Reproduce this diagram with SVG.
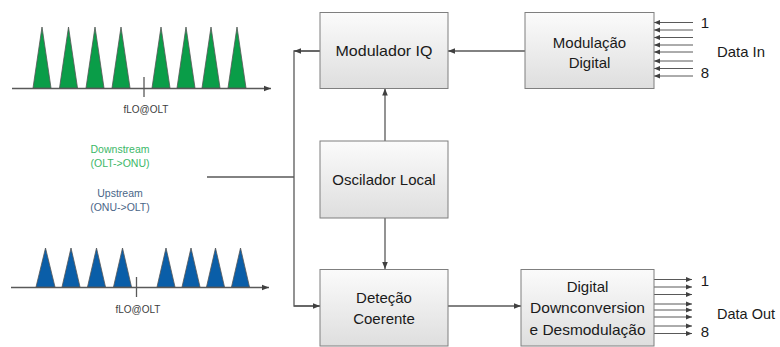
<svg xmlns="http://www.w3.org/2000/svg" width="780" height="347" viewBox="0 0 780 347">
<defs>
<linearGradient id="bg" x1="0" y1="0" x2="0" y2="1">
<stop offset="0" stop-color="#fbfbfb"/>
<stop offset="1" stop-color="#dedede"/>
</linearGradient>
<marker id="ah" viewBox="0 0 10 10" refX="10" refY="5" markerWidth="7" markerHeight="7" markerUnits="userSpaceOnUse" orient="auto">
<path d="M0,1 L10,5 L0,9 Z" fill="#404040"/>
</marker>
<marker id="ahs" viewBox="0 0 10 10" refX="10" refY="5" markerWidth="6" markerHeight="6" markerUnits="userSpaceOnUse" orient="auto">
<path d="M0,1 L10,5 L0,9 Z" fill="#404040"/>
</marker>
</defs>
<style>
.box{fill:url(#bg);stroke:#7f7f7f;stroke-width:1}
.t{font-family:"Liberation Sans",Arial,sans-serif;font-size:15px;fill:#1a1a1a;text-anchor:middle}
.ts{font-family:"Liberation Sans",Arial,sans-serif;font-size:15px;fill:#1a1a1a;text-anchor:start}
.s{font-family:"Liberation Sans",Arial,sans-serif;font-size:10px;fill:#404040;text-anchor:middle}
.c{fill:none;stroke:#595959;stroke-width:1.3}
.ax{fill:none;stroke:#595959;stroke-width:1.3}
.g{fill:#0a9d48;stroke:#555;stroke-width:0.8}
.b{fill:#0a5ea8;stroke:#555;stroke-width:0.8}
.lab{font-family:"Liberation Sans",Arial,sans-serif;font-size:10.5px;text-anchor:middle}
.d{fill:none;stroke:#595959;stroke-width:1}
</style>

<g id="spectrum-down">
<line class="ax" x1="12" y1="88.5" x2="271" y2="88.5" marker-end="url(#ah)"/>
<line class="ax" x1="144" y1="77" x2="144" y2="97"/>
<polygon class="g" points="33,88 42,27 51,88"/>
<polygon class="g" points="59.5,88 68.5,27 77.5,88"/>
<polygon class="g" points="86,88 95,27 104,88"/>
<polygon class="g" points="112,88 121,27 130,88"/>
<polygon class="g" points="152,88 161,27 170,88"/>
<polygon class="g" points="177,88 186,27 195,88"/>
<polygon class="g" points="202,88 211,27 220,88"/>
<polygon class="g" points="228,88 237,27 246,88"/>
<text class="s" x="146" y="113">fLO@OLT</text>
</g>

<g id="spectrum-up">
<line class="ax" x1="11" y1="287.5" x2="269" y2="287.5" marker-end="url(#ah)"/>
<line class="ax" x1="136.5" y1="277" x2="136.5" y2="297"/>
<polygon class="b" points="36,287 45.5,248 55,287"/>
<polygon class="b" points="62,287 71,248 80,287"/>
<polygon class="b" points="87.5,287 96.5,248 105.5,287"/>
<polygon class="b" points="113.5,287 122.5,248 131.5,287"/>
<polygon class="b" points="157,287 166,248 175,287"/>
<polygon class="b" points="182,287 191,248 200,287"/>
<polygon class="b" points="206.5,287 215.5,248 224.5,287"/>
<polygon class="b" points="231.5,287 240.5,248 249.5,287"/>
<text class="s" x="138" y="313">fLO@OLT</text>
</g>

<g id="legend">
<text class="lab" x="120" y="153" fill="#3cb868">Downstream</text>
<text class="lab" x="120" y="167" fill="#3cb868">(OLT-&gt;ONU)</text>
<text class="lab" x="120" y="197" fill="#4a6688">Upstream</text>
<text class="lab" x="120" y="211" fill="#4a6688">(ONU-&gt;OLT)</text>
</g>

<g id="connectors">
<line class="c" x1="207" y1="177" x2="294" y2="177"/>
<polyline class="c" points="320,51 294,51 294,306 320,306" />
<line class="c" x1="320" y1="51" x2="294" y2="51" marker-end="url(#ah)"/>
<line class="c" x1="294" y1="306" x2="320" y2="306" marker-end="url(#ah)"/>
<line class="c" x1="525" y1="51" x2="448" y2="51" marker-end="url(#ah)"/>
<line class="c" x1="385" y1="141" x2="385" y2="88.5" marker-end="url(#ah)"/>
<line class="c" x1="385" y1="218" x2="385" y2="269" marker-end="url(#ah)"/>
<line class="c" x1="448" y1="306" x2="521" y2="306" marker-end="url(#ah)"/>
<g id="data-in">
<line class="d" x1="693" y1="22.5" x2="654" y2="22.5" marker-end="url(#ahs)"/>
<line class="d" x1="693" y1="30" x2="654" y2="30" marker-end="url(#ahs)"/>
<line class="d" x1="693" y1="37.5" x2="654" y2="37.5" marker-end="url(#ahs)"/>
<line class="d" x1="693" y1="45" x2="654" y2="45" marker-end="url(#ahs)"/>
<line class="d" x1="693" y1="52" x2="654" y2="52" marker-end="url(#ahs)"/>
<line class="d" x1="693" y1="61" x2="654" y2="61" marker-end="url(#ahs)"/>
<line class="d" x1="693" y1="68.5" x2="654" y2="68.5" marker-end="url(#ahs)"/>
<line class="d" x1="693" y1="76" x2="654" y2="76" marker-end="url(#ahs)"/>
</g>
<g id="data-out">
<line class="d" x1="654" y1="279.5" x2="692" y2="279.5" marker-end="url(#ahs)"/>
<line class="d" x1="654" y1="287" x2="692" y2="287" marker-end="url(#ahs)"/>
<line class="d" x1="654" y1="294.5" x2="692" y2="294.5" marker-end="url(#ahs)"/>
<line class="d" x1="654" y1="304" x2="692" y2="304" marker-end="url(#ahs)"/>
<line class="d" x1="654" y1="310" x2="692" y2="310" marker-end="url(#ahs)"/>
<line class="d" x1="654" y1="317" x2="692" y2="317" marker-end="url(#ahs)"/>
<line class="d" x1="654" y1="326" x2="692" y2="326" marker-end="url(#ahs)"/>
<line class="d" x1="654" y1="333.5" x2="692" y2="333.5" marker-end="url(#ahs)"/>
</g>
</g>

<g id="modulador-iq">
<rect class="box" x="320" y="12.5" width="128" height="76"/>
<text class="t" x="384" y="56" textLength="97" lengthAdjust="spacingAndGlyphs">Modulador IQ</text>
</g>
<g id="oscilador-local">
<rect class="box" x="320" y="141" width="128" height="77"/>
<text class="t" x="384" y="185">Oscilador Local</text>
</g>
<g id="detecao-coerente">
<rect class="box" x="320" y="269.5" width="128" height="76.5"/>
<text class="t" x="384" y="303">Deteção</text>
<text class="t" x="384" y="324">Coerente</text>
</g>
<g id="modulacao-digital">
<rect class="box" x="525" y="12.5" width="129" height="76"/>
<text class="t" x="589.5" y="48">Modulação</text>
<text class="t" x="589.5" y="68">Digital</text>
</g>
<g id="digital-downconversion">
<rect class="box" x="521" y="269.5" width="133" height="76.5"/>
<text class="t" x="587.5" y="292">Digital</text>
<text class="t" x="587.5" y="313" textLength="115" lengthAdjust="spacingAndGlyphs">Downconversion</text>
<text class="t" x="587.5" y="335" textLength="116" lengthAdjust="spacingAndGlyphs">e Desmodulação</text>
</g>

<g id="io-labels">
<text class="t" x="705" y="28">1</text>
<text class="t" x="705" y="78">8</text>
<text class="ts" x="717" y="57" textLength="48" lengthAdjust="spacingAndGlyphs">Data In</text>
<text class="t" x="705" y="286">1</text>
<text class="t" x="705" y="337">8</text>
<text class="ts" x="717" y="319" textLength="58" lengthAdjust="spacingAndGlyphs">Data Out</text>
</g>
</svg>
